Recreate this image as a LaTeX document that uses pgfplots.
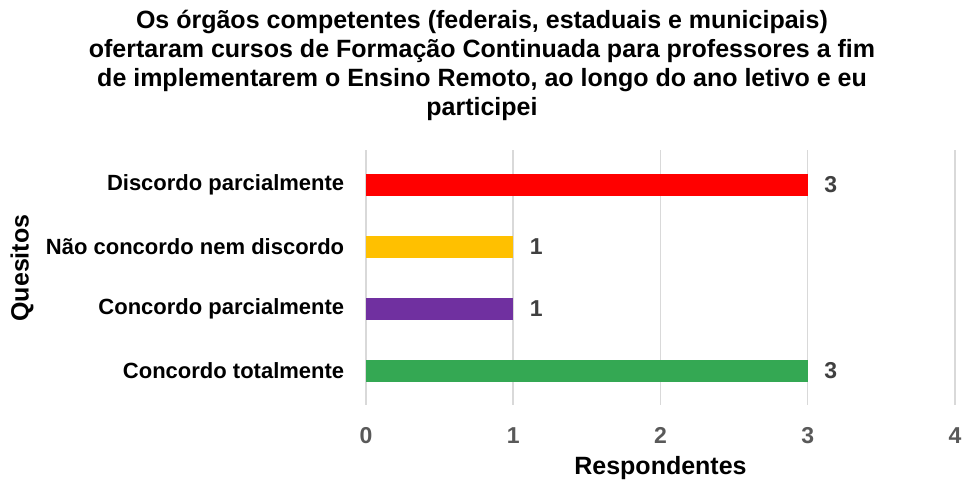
\documentclass[border=0pt]{standalone}
\usepackage{fontspec}
\setmainfont{Liberation Sans}
\usepackage{pgfplots}
\pgfplotsset{compat=1.18}

\definecolor{barred}{HTML}{FF0000}
\definecolor{baryellow}{HTML}{FFC000}
\definecolor{barpurple}{HTML}{7030A0}
\definecolor{bargreen}{HTML}{34A853}
\definecolor{gridgray}{HTML}{D9D9D9}
\definecolor{ticktext}{HTML}{595959}
\definecolor{datatext}{HTML}{404040}

\begin{document}
\begin{tikzpicture}
\path[use as bounding box] (-366pt,-76pt) rectangle (598pt,405pt);
\begin{axis}[
    at={(0,0)}, anchor=south west,
    scale only axis,
    width=589pt, height=255pt,
    xbar, bar width=22pt, bar shift=0pt,
    xmin=0, xmax=4,
    ymin=-0.548, ymax=3.565,
    xtick={0,1,2,3,4},
    ytick={0,1,2,3},
    yticklabels={Concordo totalmente, Concordo parcialmente\ , Não concordo nem discordo, Discordo parcialmente},
    xmajorgrids,
    grid style={gridgray, line width=1.5pt},
    axis line style={draw=none},
    major tick style={draw=none},
    /pgf/number format/assume math mode=true,
    xticklabel style={font=\fontsize{23}{26}\selectfont\bfseries, text=ticktext, yshift=-19pt},
    yticklabel style={font=\fontsize{22}{26}\selectfont\bfseries, text=black, xshift=-14pt},
    nodes near coords,
    every node near coord/.append style={font=\fontsize{23}{26}\selectfont\bfseries, text=datatext, anchor=west, xshift=13pt},
    xlabel={Respondentes},
    xlabel style={at={(axis description cs:0.5,0)}, anchor=center, yshift=-63pt, font=\fontsize{25}{28}\selectfont\bfseries},
    ylabel={Quesitos},
    ylabel style={at={(axis description cs:-0.584,0.537)}, anchor=center, font=\fontsize{25}{28}\selectfont\bfseries},
]
\addplot[draw=none, fill=bargreen] coordinates {(3,0)};
\addplot[draw=none, fill=barpurple] coordinates {(1,1)};
\addplot[draw=none, fill=baryellow] coordinates {(1,2)};
\addplot[draw=none, fill=barred] coordinates {(3,3)};
\end{axis}
\node[align=center, font=\fontsize{25}{29}\selectfont\bfseries] at (116pt,340pt)
  {Os órgãos competentes (federais, estaduais e municipais)\\
   ofertaram cursos de Formação Continuada para professores a fim\\
   de implementarem o Ensino Remoto, ao longo do ano letivo e eu\\
   participei};
\end{tikzpicture}
\end{document}
